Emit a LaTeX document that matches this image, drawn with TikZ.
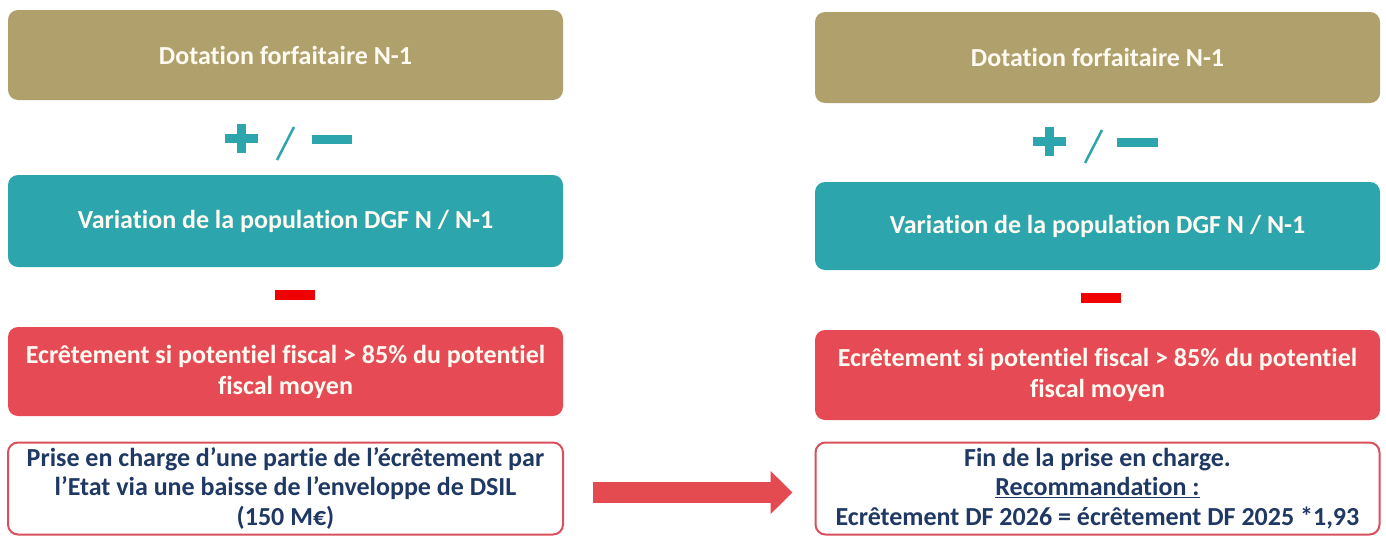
\documentclass[tikz,border=0pt]{standalone}
\usepackage{fontspec}
\setmainfont[Ligatures = NoCommon]{Carlito}
\usepackage{tikz}
\usetikzlibrary{arrows.meta}

\definecolor{goldbox}{RGB}{176,160,108}
\definecolor{tealbox}{RGB}{44,165,172}
\definecolor{redbox}{RGB}{230,75,85}
\definecolor{reddash}{RGB}{240,0,0}
\definecolor{redline}{RGB}{217,80,92}
\definecolor{redarrow}{RGB}{228,75,80}
\definecolor{navytext}{RGB}{31,56,100}
\definecolor{creamtext}{RGB}{255,251,242}

\begin{document}
\begin{tikzpicture}[x = 1pt, y = -1pt,
                        box/.style = {rounded corners = 10pt, align = center, inner sep = 0pt,
                                      font = \fontsize{26}{31}\selectfont\bfseries},
                        goldbox/.style = {box, fill = goldbox, text = creamtext},
                        tealbox/.style = {box, fill = tealbox, text = creamtext},
                        redbox/.style = {box, fill = redbox, text = creamtext},
                        linebox/.style = {box, draw = redline, line width = 2pt, fill = white,
                                          text = navytext, font = \fontsize{26}{29.5}\selectfont\bfseries},
                        signbar/.style = {fill = tealbox},
                        slash/.style = {draw = tealbox, line width = 2.5pt},
                        bigarrow/.style = {draw = redarrow, line width = 21pt,
                                           -{Triangle[length = 22pt, width = 42pt]}}]
      \useasboundingbox (0, 0) rectangle (1386, 538);

      % left column
      \node [goldbox, minimum width = 555pt, minimum height = 90pt] (l1) at (285.5, 55){Dotation forfaitaire N-1};
      \node [tealbox, minimum width = 555pt, minimum height = 92pt] (l2) at (285.5, 221){Variation de la population DGF N / N-1};
      \node [redbox, minimum width = 555pt, minimum height = 89pt] (l3) at (285.5, 371.5){Ecrêtement si potentiel fiscal > 85\% du potentiel\\ fiscal moyen};
      \node [linebox, minimum width = 555pt, minimum height = 92pt] (l4) at (285.5, 488.5){Prise en charge d’une partie de l’écrêtement par\\ l’Etat via une baisse de l’enveloppe de DSIL\\ (150 M€)};

      \fill [signbar] (225, 134) rectangle (258, 143);
      \fill [signbar] (237, 124) rectangle (246, 153);
      \draw [slash] (277, 160) -- (294, 127);
      \fill [signbar] (312, 135) rectangle (352, 144);
      \fill [reddash] (275, 290) rectangle (315, 300);

      % right column
      \node [goldbox, minimum width = 565pt, minimum height = 91pt] (r1) at (1097.5, 57.5){Dotation forfaitaire N-1};
      \node [tealbox, minimum width = 565pt, minimum height = 88pt] (r2) at (1097.5, 226){Variation de la population DGF N / N-1};
      \node [redbox, minimum width = 565pt, minimum height = 90pt] (r3) at (1097.5, 375){Ecrêtement si potentiel fiscal > 85\% du potentiel\\ fiscal moyen};
      \node [linebox, minimum width = 564pt, minimum height = 92pt] (r4) at (1097.5, 488.5){Fin de la prise en charge.\\ \underline{Recommandation :}\\ Ecrêtement DF 2026 = écrêtement DF 2025 *1,93};

      \fill [signbar] (1033, 137) rectangle (1066, 146);
      \fill [signbar] (1045, 127) rectangle (1054, 156);
      \draw [slash] (1085, 163) -- (1102, 130);
      \fill [signbar] (1117, 138) rectangle (1158, 147);
      \fill [reddash] (1081, 293) rectangle (1121, 303);

      \draw [bigarrow, shorten < = 29pt, shorten > = 22pt] ([yshift = -4pt]l4.east) -- ([yshift = -4pt]r4.west);
      \end{tikzpicture}
\end{document}
